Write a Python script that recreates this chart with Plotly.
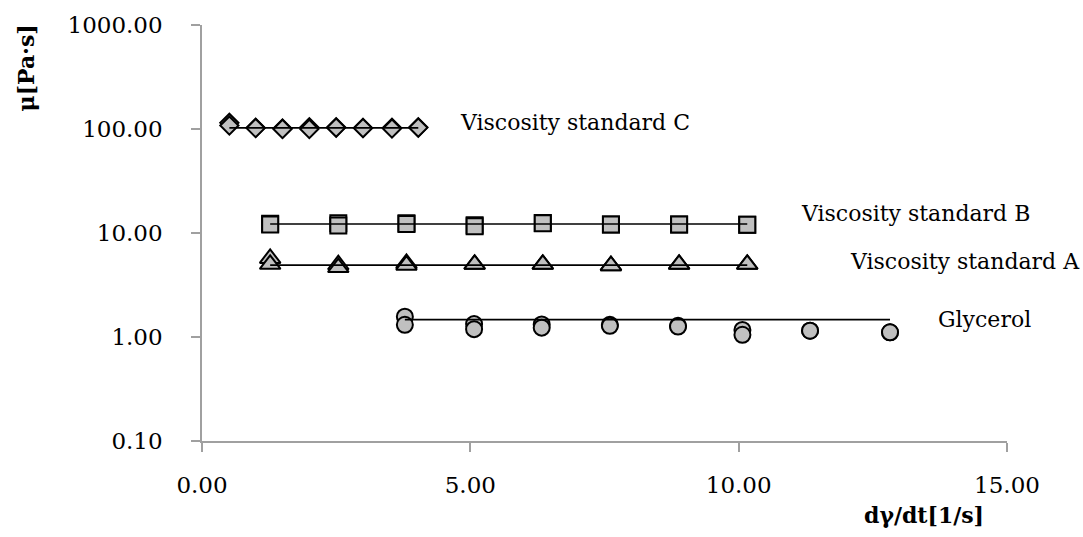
import plotly.graph_objects as go
import math

# ---- data ----
shear_c = [0.51, 1.00, 1.50, 2.00, 2.50, 3.00, 3.54, 4.03]
visc_c_run1 = [114.6, 102.8, 101.0, 104.0, 104.0, 102.0, 103.0, 104.0]
visc_c_run2 = [108.0, 102.0, 100.0, 100.0, 103.0, 102.0, 101.0, 103.0]
ref_c = 102.6

shear_b = [1.27, 2.54, 3.81, 5.08, 6.35, 7.62, 8.89, 10.16]
visc_b_run1 = [12.3, 12.4, 12.4, 11.9, 12.5, 12.1, 12.1, 12.0]
visc_b_run2 = [12.1, 11.8, 12.2, 11.6, 12.4, 12.1, 12.1, 12.0]
ref_b = 12.2

shear_a = [1.27, 2.54, 3.81, 5.08, 6.35, 7.62, 8.89, 10.16]
visc_a_run1 = [5.7, 4.95, 5.1, 5.0, 5.0, 4.85, 5.0, 5.0]
visc_a_run2 = [5.0, 4.65, 4.9, 5.0, 5.0, 4.85, 5.0, 5.0]
ref_a = 4.91

shear_g = [3.78, 5.07, 6.33, 7.60, 8.87, 10.07, 11.33, 12.82]
visc_g_run1 = [1.57, 1.33, 1.32, 1.31, 1.28, 1.17, 1.15, 1.11]
visc_g_run2 = [1.31, 1.19, 1.23, 1.28, 1.26, 1.05, 1.15, 1.11]
ref_g = 1.47

y_ticks = [0.1, 1, 10, 100, 1000]
y_ticktext = ["0.10", "1.00", "10.00", "100.00", "1000.00"]
x_ticks = [0, 5, 10, 15]
x_ticktext = ["0.00", "5.00", "10.00", "15.00"]

labels = ["Viscosity standard C", "Viscosity standard B", "Viscosity standard A", "Glycerol"]
label_x = [4.77, 11.12, 12.04, 13.68]
label_y = [116, 15.4, 5.3, 1.48]

FONT = "DejaVu Serif"
FILL = "#c0c0c0"

fig = go.Figure()

def add_markers(x, ys, symbol, size):
    for y in ys:
        fig.add_trace(go.Scatter(
            x=x, y=y, mode="markers",
            marker=dict(symbol=symbol, size=size, color=FILL,
                        line=dict(color="black", width=2)),
            showlegend=False, hoverinfo="skip"))

add_markers(shear_c, [visc_c_run1, visc_c_run2], "diamond", 14)
add_markers(shear_b, [visc_b_run1, visc_b_run2], "square", 16)
add_markers(shear_a, [visc_a_run1, visc_a_run2], "triangle-up", 18)
add_markers(shear_g, [visc_g_run1, visc_g_run2], "circle", 16)

for xs, ref in [(shear_c, ref_c), (shear_b, ref_b), (shear_a, ref_a), (shear_g, ref_g)]:
    fig.add_trace(go.Scatter(
        x=[xs[0], xs[-1]], y=[ref, ref], mode="lines",
        line=dict(color="black", width=1.6),
        showlegend=False, hoverinfo="skip"))

for t, lx, ly in zip(labels, label_x, label_y):
    fig.add_annotation(x=lx, y=math.log10(ly), xref="x", yref="y", text=t,
                       showarrow=False, xanchor="left", yanchor="middle",
                       font=dict(family=FONT, size=22, color="black"))

fig.add_annotation(x=26, y=64, xref="paper", yref="paper", text="<b>μ[Pa·s]</b>",
                   showarrow=False, textangle=-90, xanchor="center", yanchor="middle",
                   font=dict(family=FONT, size=22, color="black"))
fig.add_annotation(x=924, y=516, xref="paper", yref="paper", text="<b>dγ/dt[1/s]</b>",
                   showarrow=False, xanchor="center", yanchor="middle",
                   font=dict(family=FONT, size=22, color="black"))

# convert pixel positions of title annotations to paper coords
W, H = 1083, 537
L, R, T, B = 202, 76, 20, 96
pw, ph = W - L - R, H - T - B
for ann in fig.layout.annotations[-2:]:
    ann.x = (ann.x - L) / pw
    ann.y = 1 - (ann.y - T) / ph

fig.update_layout(
    width=W, height=H,
    margin=dict(l=L, r=R, t=T, b=B, pad=0),
    paper_bgcolor="white", plot_bgcolor="white",
    font=dict(family=FONT, size=23, color="black"),
    showlegend=False,
    xaxis=dict(range=[0, 15], tickvals=x_ticks, ticktext=x_ticktext,
               showgrid=False, zeroline=False, showline=True,
               linecolor="#a0a0a0", linewidth=1.5,
               ticks="outside", ticklen=9, tickcolor="#a0a0a0", tickwidth=1.5,
               ticklabelstandoff=14, tickfont=dict(size=23)),
    yaxis=dict(type="log", range=[-1, 3], tickvals=y_ticks, ticktext=y_ticktext,
               showgrid=False, zeroline=False, showline=True,
               linecolor="#a0a0a0", linewidth=1.5,
               ticks="outside", ticklen=9, tickcolor="#a0a0a0", tickwidth=1.5,
               ticklabelstandoff=24, tickfont=dict(size=23)),
)

fig.write_html("out.html")
